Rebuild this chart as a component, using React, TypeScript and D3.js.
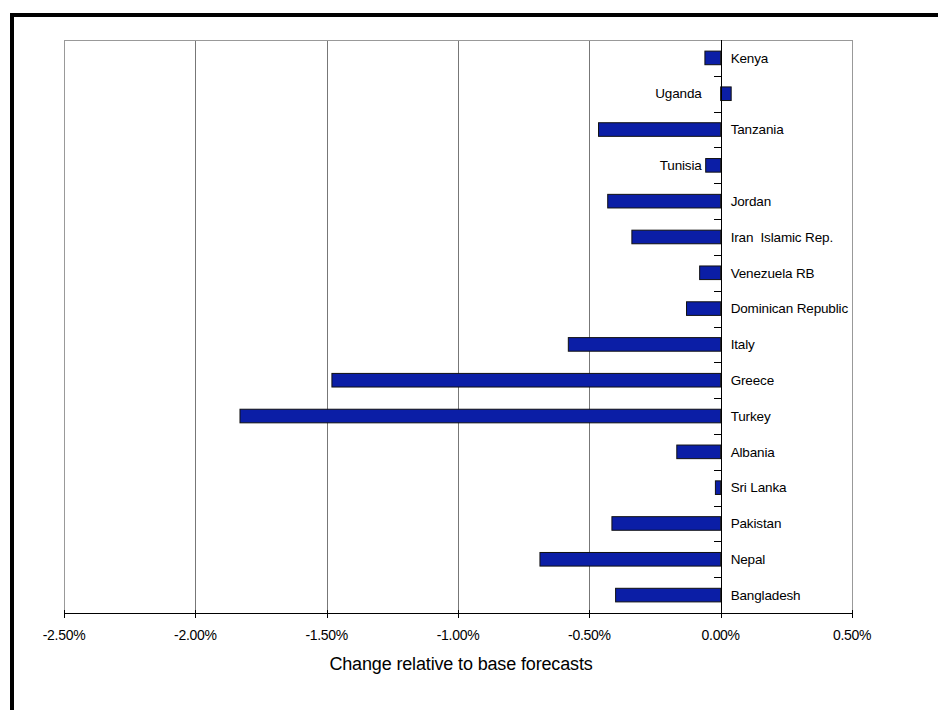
import React from "react";
import * as d3 from "d3";

const categories = [
  "Kenya",
  "Uganda",
  "Tanzania",
  "Tunisia",
  "Jordan",
  "Iran  Islamic Rep.",
  "Venezuela RB",
  "Dominican Republic",
  "Italy",
  "Greece",
  "Turkey",
  "Albania",
  "Sri Lanka",
  "Pakistan",
  "Nepal",
  "Bangladesh",
];
const values = [
  -0.06, 0.04, -0.465, -0.057, -0.43, -0.338, -0.08, -0.13, -0.58, -1.48,
  -1.83, -0.167, -0.02, -0.414, -0.688, -0.4,
];
const xTicks = [-2.5, -2.0, -1.5, -1.0, -0.5, 0, 0.5];
const labelsOnLeft = ["Uganda", "Tunisia"];
const axisTitle = "Change relative to base forecasts";

const W = 938;
const H = 710;
const plot = { left: 64, right: 852, top: 40, bottom: 613 };
const FONT = "'Liberation Sans', Arial, sans-serif";

export default function App() {
  const x = d3.scaleLinear().domain([-2.5, 0.5]).range([plot.left, plot.right]);
  const y = d3
    .scaleBand<string>()
    .domain(categories)
    .range([plot.top, plot.bottom])
    .paddingInner(0.62)
    .paddingOuter(0.31);
  const step = y.step();
  const x0 = x(0);
  const fmt = (v: number) => d3.format(".2f")(v).replace("\u2212", "-") + "%";

  return (
    <svg
      width={W}
      height={H}
      style={{ position: "absolute", left: 0, top: 0, background: "#fff" }}
      fontFamily={FONT}
    >
      {/* outer frame fragments */}
      <rect x={10} y={13} width={W - 10} height={4} fill="#000" />
      <rect x={10} y={13} width={4} height={H - 13} fill="#000" />

      {/* gridlines */}
      {xTicks.map((t, i) => (
        <line
          key={"g" + i}
          x1={Math.round(x(t)) + 0.5}
          x2={Math.round(x(t)) + 0.5}
          y1={plot.top}
          y2={plot.bottom}
          stroke={i === 0 || i === xTicks.length - 1 ? "#999" : "#777"}
          strokeWidth={1}
        />
      ))}
      {/* plot top border */}
      <line
        x1={plot.left}
        x2={plot.right}
        y1={plot.top + 0.5}
        y2={plot.top + 0.5}
        stroke="#999"
      />

      {/* bars */}
      {categories.map((c, i) => {
        const v = values[i];
        const xa = Math.min(x(v), x0);
        const w = Math.abs(x(v) - x0);
        const yy = y(c)!;
        return (
          <rect
            key={"b" + i}
            x={xa}
            y={yy}
            width={w}
            height={y.bandwidth()}
            fill="#0b1ea6"
            stroke="#111"
            strokeWidth={1}
          />
        );
      })}

      {/* x axis */}
      <line
        x1={plot.left}
        x2={plot.right}
        y1={plot.bottom + 0.5}
        y2={plot.bottom + 0.5}
        stroke="#000"
      />
      {xTicks.map((t, i) => (
        <g key={"t" + i}>
          <line
            x1={Math.round(x(t)) + 0.5}
            x2={Math.round(x(t)) + 0.5}
            y1={plot.bottom - 3}
            y2={plot.bottom + 5}
            stroke="#000"
          />
          <text
            x={x(t)}
            y={640}
            textAnchor="middle"
            fontSize={14}
            letterSpacing={-0.3}
            fill="#000"
          >
            {fmt(t)}
          </text>
        </g>
      ))}
      <text
        x={461}
        y={670}
        textAnchor="middle"
        fontSize={18}
        letterSpacing={-0.15}
        fill="#000"
      >
        {axisTitle}
      </text>

      {/* y axis at zero */}
      <line
        x1={Math.round(x0) + 0.5}
        x2={Math.round(x0) + 0.5}
        y1={plot.top}
        y2={plot.bottom}
        stroke="#000"
      />
      {d3.range(1, categories.length).map((k) => (
        <line
          key={"yt" + k}
          x1={Math.round(x0) - 7}
          x2={Math.round(x0) + 0.5}
          y1={Math.round(plot.top + k * step) + 0.5}
          y2={Math.round(plot.top + k * step) + 0.5}
          stroke="#000"
        />
      ))}

      {/* category labels */}
      {categories.map((c, i) => {
        const left = labelsOnLeft.includes(c);
        return (
          <text
            key={"l" + i}
            x={left ? x0 - 19 : x0 + 10}
            y={y(c)! + y.bandwidth() / 2}
            dy="0.35em"
            textAnchor={left ? "end" : "start"}
            fontSize={13.5}
            letterSpacing={-0.15}
            fill="#000"
            style={{ whiteSpace: "pre" }}
          >
            {c}
          </text>
        );
      })}
    </svg>
  );
}
